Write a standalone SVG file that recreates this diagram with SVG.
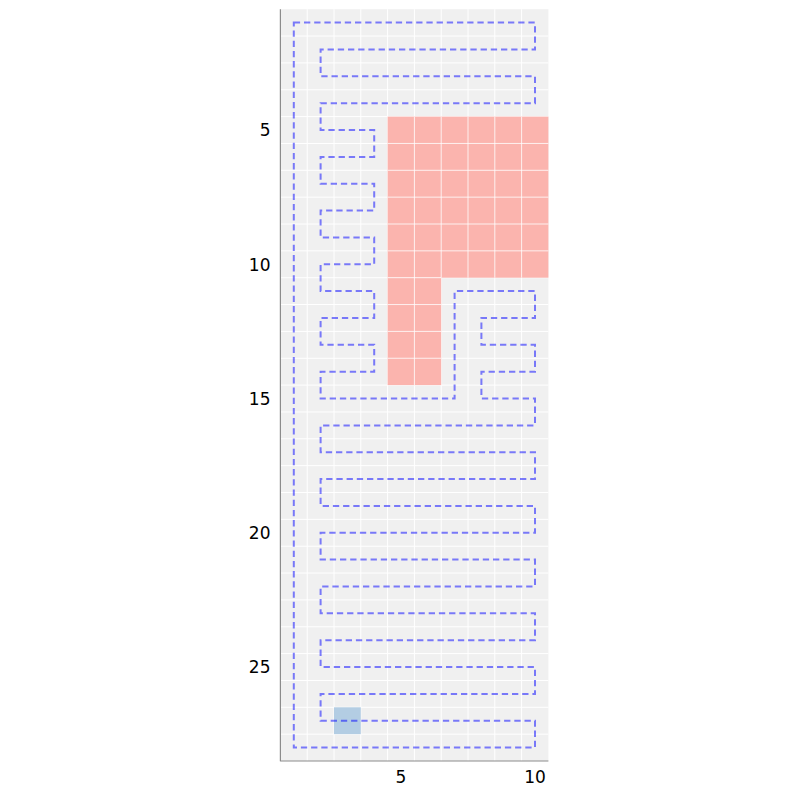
<svg xmlns="http://www.w3.org/2000/svg" width="800" height="800" viewBox="0 0 800 800">
<style>
.grid{stroke:#ffffff;stroke-width:1;fill:none}
.red{fill:#fbb4ae}
.blue{fill:#b3cde3}
.path{fill:none;stroke:#0000ff;stroke-opacity:0.5;stroke-width:2;stroke-dasharray:6.3 3.9}
.spine{stroke:#8c8c8c;stroke-width:1.2;fill:none}
.tick{font-family:"DejaVu Sans","Liberation Sans",sans-serif;font-size:17px;fill:#000}
</style>
<rect width="800" height="800" fill="#ffffff"/>
<g id="plot-area">
<rect x="280.4" y="9.2" width="268" height="751.8" fill="#f0f0f0"/>
<g id="grid" class="grid">
<path d="M307.2 9.2V761M334 9.2V761M360.8 9.2V761M387.6 9.2V761M414.4 9.2V761M441.2 9.2V761M468 9.2V761M494.8 9.2V761M521.6 9.2V761"/>
<path d="M280.4 36.05H548.4M280.4 62.9H548.4M280.4 89.75H548.4M280.4 116.6H548.4M280.4 143.45H548.4M280.4 170.3H548.4M280.4 197.15H548.4M280.4 224H548.4M280.4 250.85H548.4M280.4 277.7H548.4M280.4 304.55H548.4M280.4 331.4H548.4M280.4 358.25H548.4M280.4 385.1H548.4M280.4 411.95H548.4M280.4 438.8H548.4M280.4 465.65H548.4M280.4 492.5H548.4M280.4 519.35H548.4M280.4 546.2H548.4M280.4 573.05H548.4M280.4 599.9H548.4M280.4 626.75H548.4M280.4 653.6H548.4M280.4 680.45H548.4M280.4 707.3H548.4M280.4 734.15H548.4"/>
</g>
</g>
<g id="obstacles">
<rect class="red" x="387.6" y="116.6" width="160.8" height="161.1"/>
<rect class="red" x="387.6" y="277.7" width="53.6" height="107.4"/>
<g class="grid" stroke-opacity="0.8">
<path d="M414.4 116.6V385.1M441.2 116.6V277.7M468 116.6V277.7M494.8 116.6V277.7M521.6 116.6V277.7"/>
<path d="M387.6 143.45H548.4M387.6 170.3H548.4M387.6 197.15H548.4M387.6 224H548.4M387.6 250.85H548.4M387.6 277.7H441.2M387.6 304.55H441.2M387.6 331.4H441.2M387.6 358.25H441.2"/>
</g>
</g>
<g id="start-cell">
<rect class="blue" x="334" y="707.3" width="26.8" height="26.85"/>
</g>
<g id="connectors">
<path class="path" d="M293.8 22.6H535V49.5H320.6V76.3H535V103.2H320.6V130H374.2V156.9H320.6V183.7H374.2V210.6H320.6V237.4H374.2V264.3H320.6V291.1H374.2V318H320.6V344.8H374.2V371.7H320.6V398.5H454.6V291.1H535V318H481.4V344.8H535V371.7H481.4V398.5H535V425.4H320.6V452.2H535V479.1H320.6V505.9H535V532.8H320.6V559.6H535V586.5H320.6V613.3H535V640.2H320.6V667H535V693.9H320.6V720.7H535V747.6H293.8Z"/>
</g>
<g id="axes">
<path class="spine" d="M280.4 9.2V761.3M280.1 761H548.4"/>
<g class="tick" text-anchor="end">
<text x="270.5" y="136.3">5</text>
<text x="270.5" y="270.6">10</text>
<text x="270.5" y="404.8">15</text>
<text x="270.5" y="539.1">20</text>
<text x="270.5" y="673.3">25</text>
</g>
<g class="tick" text-anchor="middle">
<text x="401" y="782.7">5</text>
<text x="535" y="782.7">10</text>
</g>
</g>
</svg>
